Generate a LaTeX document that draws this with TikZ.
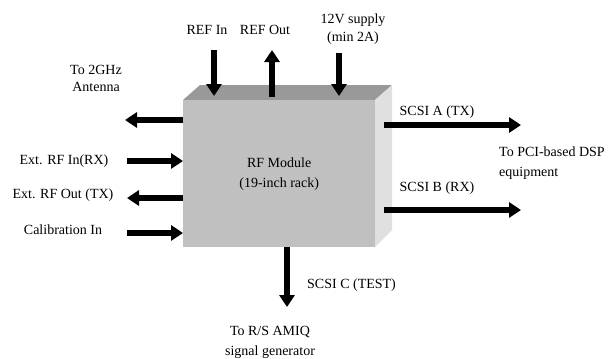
\documentclass[tikz,border=0pt]{standalone}
\usepackage{fontspec}
\setmainfont{Liberation Serif}
\usetikzlibrary{arrows.meta}
\definecolor{frontgray}{RGB}{192,192,192}
\definecolor{topgray}{RGB}{153,153,153}
\definecolor{sidegray}{RGB}{224,224,224}
\tikzset{
  lbl/.style={font=\fontsize{14}{20}\selectfont, inner sep=0pt, align=center},
  fat/.style={line width=6pt, -{Triangle[length=12pt,width=15pt]}},
}
\begin{document}
\begin{tikzpicture}[x=1pt,y=-1pt]
\useasboundingbox (0,0) rectangle (614,359);
% box
\fill[topgray] (183,100) -- (200,85) -- (392,85) -- (375,100) -- cycle;
\fill[sidegray] (375,100) -- (392,85) -- (392,230) -- (375,247) -- cycle;
\node[fill=frontgray, minimum width=192pt, minimum height=147pt, inner sep=0pt, anchor=north west,
      font=\fontsize{14}{20}\selectfont, align=center] (rf) at (183,100) {RF Module\\(19-inch rack)};
% labels
\node[lbl] (refin) at (207,30) {REF In};
\node[lbl] (refout) at (265,30) {REF Out};
\node[lbl, font=\fontsize{14}{18}\selectfont] (v12) at (353,29) {12V supply\\(min 2A)};
\node[lbl, font=\fontsize{14}{17}\selectfont] (ant) at (96,78) {To 2GHz\\Antenna};
\node[lbl] (rfin) at (64,161) {Ext. RF In(RX)};
\node[lbl] (rfout) at (63,195) {Ext. RF Out (TX)};
\node[lbl] (cal) at (63,230) {Calibration In};
\node[lbl] (scsia) at (437,112) {SCSI A (TX)};
\node[lbl, anchor=west, align=left] (pci) at (499,163) {To PCI-based DSP\\equipment};
\node[lbl] (scsib) at (437,188) {SCSI B (RX)};
\node[lbl, anchor=west] (scsic) at (307,285) {SCSI C (TEST)};
\node[lbl] (amiq) at (270,342) {To R/S AMIQ\\signal generator};
% free ends
\coordinate (antE) at (125,120);
\coordinate (rfinS) at (127,161);
\coordinate (rfoutE) at (127,198);
\coordinate (calS) at (127,233);
\coordinate (refinS) at (214,50);
\coordinate (refinE) at (214,96);
\coordinate (refoutS) at (272,97);
\coordinate (refoutE) at (272,50);
\coordinate (v12S) at (339,53);
\coordinate (v12E) at (339,96);
\coordinate (aS) at (384,125);
\coordinate (aE) at (521,125);
\coordinate (bS) at (384,210);
\coordinate (bE) at (521,210);
\coordinate (cE) at (287,307);
% arrows
\draw[fat] (rf.west |- antE) -- (antE);
\draw[fat] (rfinS) -- (rf.west |- rfinS);
\draw[fat] (rf.west |- rfoutE) -- (rfoutE);
\draw[fat] (calS) -- (rf.west |- calS);
\draw[fat] (refinS) -- (refinE);
\draw[fat] (refoutS) -- (refoutE);
\draw[fat] (v12S) -- (v12E);
\draw[fat] (aS) -- (aE);
\draw[fat] (bS) -- (bE);
\draw[fat] (rf.south -| cE) -- (cE);
\end{tikzpicture}
\end{document}
